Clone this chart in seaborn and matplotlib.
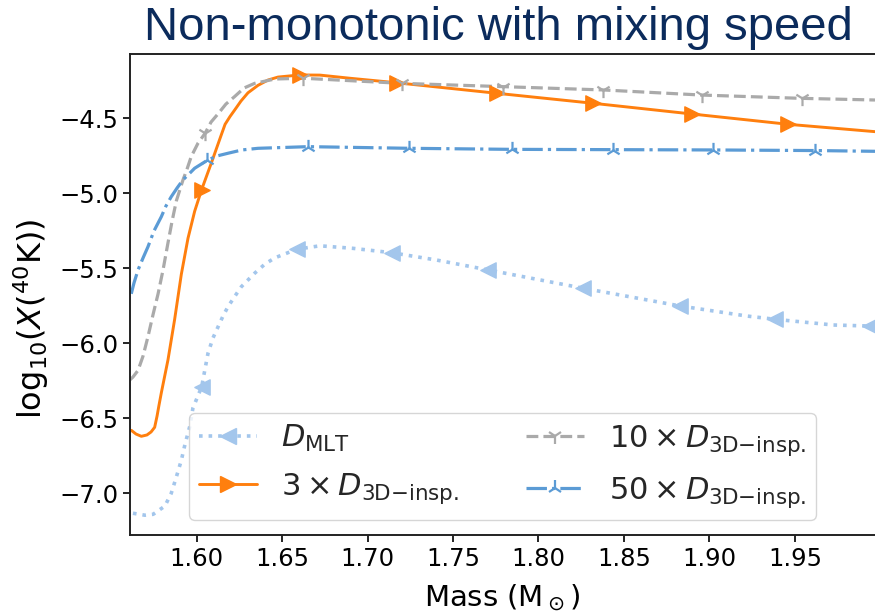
import numpy as np
import pandas as pd
import matplotlib
matplotlib.use("Agg")
import matplotlib.pyplot as plt
from matplotlib.lines import Line2D
import seaborn as sns

# ---------------- data ----------------
mlt_mass = [1.5627, 1.5697, 1.5745, 1.5814, 1.5851, 1.5879, 1.5910, 1.5932, 1.5959,
            1.5978, 1.6029, 1.6066, 1.6095, 1.6125, 1.6154, 1.6183, 1.6224, 1.6261,
            1.6300, 1.6339, 1.6400, 1.6458, 1.6585, 1.6721, 1.6915, 1.7141, 1.7404,
            1.7706, 1.8262, 1.8828, 1.9218, 1.9384, 1.9725, 1.9940, 1.9970]
mlt_val = [-7.133, -7.146, -7.140, -7.085, -7.000, -6.898, -6.780, -6.671, -6.556,
           -6.431, -6.290, -6.067, -5.965, -5.890, -5.818, -5.756, -5.685, -5.623,
           -5.578, -5.533, -5.471, -5.430, -5.373, -5.350, -5.367, -5.396, -5.445,
           -5.511, -5.633, -5.751, -5.818, -5.840, -5.878, -5.885, -5.887]
mlt_marks = [1.6029, 1.6585, 1.7141, 1.7706, 1.8262, 1.8828, 1.9384, 1.9940]

x3_mass = [1.5617, 1.5645, 1.5676, 1.5709, 1.5733, 1.5754, 1.5768, 1.5779, 1.5793,
           1.5832, 1.5871, 1.5910, 1.5949, 1.5988, 1.6029, 1.6085, 1.6144, 1.6166,
           1.6195, 1.6222, 1.6259, 1.6300, 1.6359, 1.6417, 1.6476, 1.6604, 1.6721,
           1.6897, 1.7170, 1.7755, 1.8321, 1.8896, 1.9462, 1.9969]
x3_val = [-6.580, -6.605, -6.620, -6.611, -6.591, -6.560, -6.485, -6.415, -6.330,
          -6.110, -5.840, -5.540, -5.300, -5.120, -4.975, -4.800, -4.610, -4.540,
          -4.488, -4.445, -4.385, -4.330, -4.280, -4.245, -4.225, -4.211, -4.212,
          -4.233, -4.263, -4.333, -4.400, -4.471, -4.540, -4.589]
x3_marks = [1.6029, 1.6604, 1.7170, 1.7755, 1.8321, 1.8896, 1.9462]

x10_mass = [1.5608, 1.5627, 1.5657, 1.5686, 1.5715, 1.5744, 1.5774, 1.5803, 1.5832,
            1.5856, 1.5881, 1.5902, 1.5920, 1.5943, 1.5968, 1.6008, 1.6049, 1.6084,
            1.6125, 1.6171, 1.6222, 1.6277, 1.6339, 1.6458, 1.6624, 1.7200, 1.7794,
            1.8379, 1.8955, 1.9540, 1.9969]
x10_val = [-6.245, -6.225, -6.180, -6.085, -5.955, -5.811, -5.670, -5.511, -5.330,
           -5.185, -5.050, -4.975, -4.910, -4.840, -4.755, -4.665, -4.600, -4.525,
           -4.470, -4.405, -4.355, -4.298, -4.267, -4.238, -4.233, -4.267, -4.289,
           -4.311, -4.345, -4.367, -4.378]
x10_marks = [1.6049, 1.6624, 1.7200, 1.7794, 1.8379, 1.8955, 1.9540]

x50_mass = [1.5617, 1.5633, 1.5657, 1.5686, 1.5715, 1.5750, 1.5793, 1.5820, 1.5851,
            1.5885, 1.5920, 1.5955, 1.5988, 1.6062, 1.6119, 1.6183, 1.6265, 1.6359,
            1.6653, 1.7244, 1.7843, 1.8438, 1.9023, 1.9618, 1.9969]
x50_val = [-5.670, -5.598, -5.510, -5.431, -5.356, -5.251, -5.156, -5.085, -5.023,
           -4.965, -4.910, -4.871, -4.833, -4.780, -4.751, -4.733, -4.711, -4.700,
           -4.689, -4.700, -4.707, -4.709, -4.711, -4.715, -4.720]
x50_marks = [1.6062, 1.6653, 1.7244, 1.7843, 1.8438, 1.9023, 1.9618]

labels = [r'$D_{\rm MLT}$', r'$3\times D_{\rm 3D{-}insp.}$',
          r'$10\times D_{\rm 3D{-}insp.}$', r'$50\times D_{\rm 3D{-}insp.}$']
title = "Non-monotonic with mixing speed"
xticks = [1.60, 1.65, 1.70, 1.75, 1.80, 1.85, 1.90, 1.95]
yticks = [-7.0, -6.5, -6.0, -5.5, -5.0, -4.5]

# ---------------- styling ----------------
sns.set_theme(style="ticks")
plt.rcParams['font.family'] = ['DejaVu Sans']
plt.rcParams['mathtext.fontset'] = 'dejavusans'

c_mlt = '#a3c6ec'
c_3 = '#ff7f0e'
c_10 = '#aaaaaa'
c_50 = '#5b9bd5'

series = [
    (mlt_mass, mlt_val, mlt_marks, c_mlt, ':', '<', 2.6, 11, 1.0),
    (x3_mass, x3_val, x3_marks, c_3, '-', '>', 2.1, 11, 1.0),
    (x10_mass, x10_val, x10_marks, c_10, '--', '1', 2.3, 11, 1.6),
    (x50_mass, x50_val, x50_marks, c_50, '-.', '2', 2.3, 11, 1.6),
]

fig = plt.figure(figsize=(8.75, 6.12), dpi=100)
ax = fig.add_axes([130 / 875, 77 / 612, 745 / 875, 481 / 612])

handles = []
for (m, v, marks, col, ls, mk, lw, ms, mew), lab in zip(series, labels):
    df = pd.DataFrame({'mass': m, 'val': v})
    sns.lineplot(data=df, x='mass', y='val', ax=ax, color=col, linestyle=ls,
                 linewidth=lw, sort=False, estimator=None, legend=False)
    dm = df[np.isin(df['mass'], marks)]
    if mk in ('<', '>'):
        sns.scatterplot(data=dm, x='mass', y='val', ax=ax, color=col, marker=mk,
                        s=ms ** 2, edgecolor=col, linewidth=mew, legend=False,
                        zorder=3, clip_on=False)
    else:
        sns.scatterplot(data=dm, x='mass', y='val', ax=ax, color=col, marker=mk,
                        s=ms ** 2, linewidth=mew, legend=False, zorder=3,
                        clip_on=False)
    handles.append(Line2D([], [], color=col, linestyle=ls, linewidth=lw, marker=mk,
                          markersize=ms, markeredgewidth=mew, markeredgecolor=col,
                          markerfacecolor=col, label=lab))

ax.set_xlim(1.56097, 1.99690)
ax.set_ylim(-7.278, -4.0713)
ax.set_xticks(xticks)
ax.set_xticklabels([f"{t:.2f}" for t in xticks])
ax.set_yticks(yticks)
ax.set_yticklabels([f"\u2212{abs(t):.1f}" for t in yticks])
ax.tick_params(axis='both', labelsize=17.5, length=5, width=1.2, color='black',
               labelcolor='black')
for sp in ['left', 'bottom', 'top']:
    ax.spines[sp].set_color('#222222')
    ax.spines[sp].set_linewidth(1.4)
ax.spines['right'].set_visible(False)

ax.set_xlabel(r'Mass (M$_\odot$)', fontsize=21, color='black', labelpad=8)
ax.set_ylabel(r'$\mathrm{log}_{10}(X(^{40}\mathrm{K}))$', fontsize=23, color='black')
ax.yaxis.set_label_coords(-0.106, 0.449)

leg = ax.legend(handles=handles, loc='lower center', ncol=2, fontsize=22,
                frameon=True, fancybox=True, framealpha=0.8, edgecolor='#cccccc',
                handlelength=1.9, handletextpad=0.8, columnspacing=2.2,
                labelspacing=0.55, borderpad=0.32, borderaxespad=0.5)

fig.text(0.570, 0.9346, title, ha='center', va='baseline', fontsize=34,
         color='#0b2b5c', family=['Liberation Sans', 'DejaVu Sans'])

fig.savefig('out.png', dpi=100)
